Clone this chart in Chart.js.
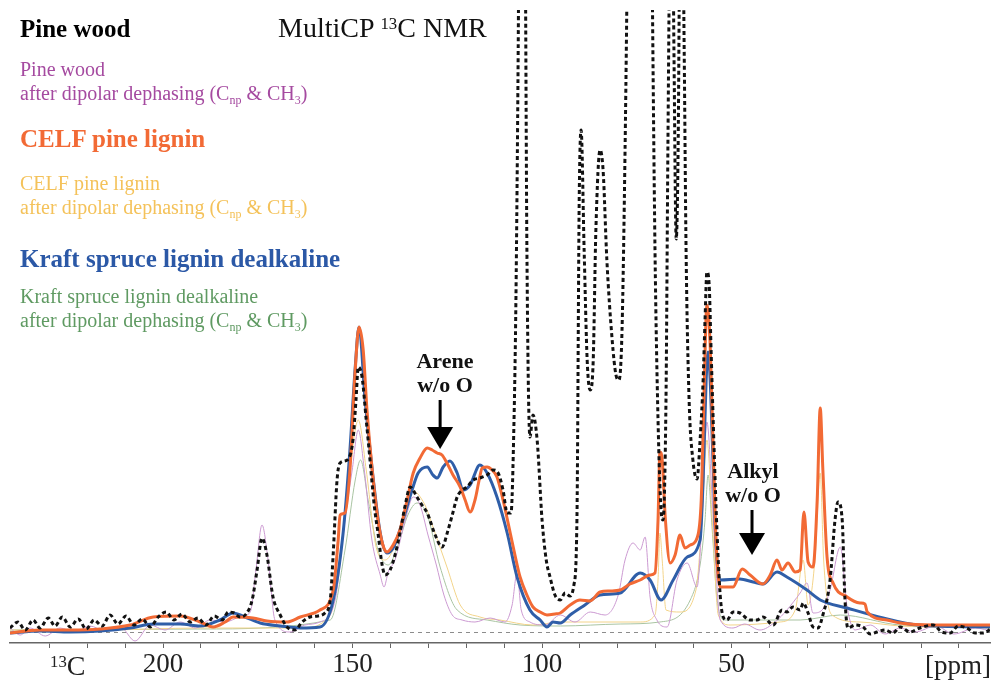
<!DOCTYPE html>
<html>
<head>
<meta charset="utf-8">
<script src="https://cdn.jsdelivr.net/npm/chart.js@4.4.1/dist/chart.umd.min.js"></script>
<style>
  body { margin: 0; background: #fff; }
  #wrap { position: relative; width: 994px; height: 683px; }
  .lbl { position: absolute; font-family: "Liberation Serif", "Times New Roman", serif; white-space: nowrap; }
  .bold { font-weight: bold; }
  .lbl sub { font-size: 0.6em; vertical-align: -0.35em; line-height: 0; }
  .lbl sup { font-size: 0.6em; vertical-align: 0.45em; line-height: 0; }
  .two { line-height: 24px; font-size: 20px; }
  .note { font-weight: bold; font-size: 22px; line-height: 24px; text-align: center; transform: translateX(-50%); }
</style>
</head>
<body>
<div id="wrap">
  <canvas id="nmrChart" width="994" height="683"></canvas>

  <div class="lbl bold" style="left:20px;top:16px;font-size:25px;line-height:25px;color:#000">Pine wood</div>
  <div class="lbl" style="left:278px;top:14px;font-size:28px;line-height:28px;color:#111">MultiCP <sup>13</sup>C NMR</div>
  <div class="lbl two" style="left:20px;top:57px;color:#a54aa0">Pine wood<br>after dipolar dephasing (C<sub>np</sub> &amp; CH<sub>3</sub>)</div>
  <div class="lbl bold" style="left:20px;top:126px;font-size:25px;line-height:25px;color:#f26a35">CELF pine lignin</div>
  <div class="lbl two" style="left:20px;top:171px;color:#f4c25a">CELF pine lignin<br>after dipolar dephasing (C<sub>np</sub> &amp; CH<sub>3</sub>)</div>
  <div class="lbl bold" style="left:20px;top:246px;font-size:25px;line-height:25px;color:#2b58a6">Kraft spruce lignin dealkaline</div>
  <div class="lbl two" style="left:20px;top:284px;color:#5f9a62">Kraft spruce lignin dealkaline<br>after dipolar dephasing (C<sub>np</sub> &amp; CH<sub>3</sub>)</div>

  <div class="lbl note" style="left:445px;top:349px;color:#111">Arene<br>w/o O</div>
  <div class="lbl note" style="left:753px;top:459px;color:#111">Alkyl<br>w/o O</div>

  <div class="lbl" style="left:50px;top:652px;font-size:28px;line-height:28px;color:#222"><sup>13</sup>C</div>
  <div class="lbl" style="left:925px;top:652px;font-size:27px;line-height:27px;color:#222">[ppm]</div>
</div>

<script>
// chemical shift (ppm) and signal height for each trace

const pineWoodPpm = [240.4, 238.3, 236.4, 234.3, 232.5, 230.3, 228.5, 226.6, 224.5, 222.4,
    220.3, 218.2, 216.1, 214.0, 211.9, 209.8, 207.7, 205.5, 203.4, 201.3,
    199.2, 197.1, 195.0, 192.9, 190.8, 188.7, 186.5, 184.4, 182.8, 181.3,
    179.7, 178.1, 176.5, 175.2, 173.9, 172.6, 171.0, 169.1, 167.3, 165.2,
    163.3, 161.2, 159.1, 157.3, 155.9, 155.1, 154.1, 153.3, 151.4, 149.9,
    149.1, 148.5, 147.5, 146.4, 145.4, 144.3, 143.3, 142.2, 141.4, 140.1,
    138.8, 137.5, 136.1, 134.8, 133.0, 131.7, 130.3, 128.2, 126.4, 124.8,
    123.7, 122.4, 121.1, 119.8, 118.2, 116.4, 114.5, 112.9, 111.6, 110.3,
    109.2, 108.2, 107.4, 106.9, 106.3, 105.8, 105.3, 104.5, 104.0, 103.2,
    102.4, 101.3, 100.0, 98.9, 97.9, 96.6, 95.2, 93.9, 92.6, 91.6,
    90.8, 90.2, 89.7, 88.9, 88.1, 87.3, 86.5, 85.8, 84.7, 83.9,
    82.9, 81.5, 80.5, 79.7, 78.9, 78.1, 77.3, 76.2, 74.9, 73.3,
    72.0, 71.0, 70.2, 69.4, 68.6, 68.1, 67.3, 66.8, 66.2, 65.7,
    65.2, 64.6, 64.1, 63.6, 63.1, 62.5, 62.0, 61.2, 60.2, 59.1,
    58.3, 57.5, 57.0, 56.5, 55.9, 55.4, 54.6, 53.8, 53.0, 52.2,
    51.2, 49.6, 47.8, 45.1, 43.3, 41.7, 39.0, 36.7, 35.4, 33.8,
    31.9, 31.1, 29.8, 28.5, 27.2, 25.9, 24.0, 22.7, 21.9, 20.8,
    20.1, 19.3, 17.4, 15.3, 13.4, 11.6, 9.5, 7.4, 5.5, 2.9,
    0.3, -3.2, -5.5, -7.7, -9.8, -12.1, -14.3, -16.4, -19.0];
const pineWoodSignal = [4, 10, 2, 12, 4, 14, 6, 15, 5, 13,
    3, 12, 6, 17, 8, 16, 7, 13, 5, 15,
    20, 12, 18, 10, 14, 7, 16, 12, 20, 19,
    15, 18, 32, 62, 94, 77, 35, 17, 5, 2,
    10, 15, 16, 19, 32, 79, 152, 169, 172, 192,
    232, 265, 255, 212, 172, 127, 99, 67, 57, 62,
    77, 99, 127, 145, 135, 127, 119, 97, 85, 102,
    117, 135, 142, 145, 152, 154, 157, 162, 159, 142,
    119, 119, 212, 332, 582, 882, 932, 732, 382, 195,
    217, 192, 112, 72, 55, 37, 32, 39, 36, 47,
    112, 432, 502, 382, 272, 242, 272, 402, 482, 462,
    372, 292, 257, 252, 302, 482, 732, 1032, 1232, 1182,
    1132, 682, 382, 212, 122, 112, 232, 482, 732, 782,
    582, 393, 482, 732, 782, 582, 382, 232, 172, 153,
    192, 252, 312, 360, 347, 282, 182, 97, 37, 15,
    12, 20, 19, 12, 12, 15, 7, 22, 20, 25,
    22, 29, 19, 5, 4, 17, 52, 112, 130, 112,
    35, 4, 7, 5, -2, 0, 2, -1, 5, 0,
    4, 7, 0, -1, 6, 4, -1, -1, 5];

const pineDephasedPpm = [240.4, 237.7, 235.1, 231.1, 227.2, 223.2, 219.3, 215.3, 211.3, 207.4,
    203.4, 199.5, 195.5, 191.5, 187.6, 183.6, 179.7, 177.0, 175.5, 173.9,
    172.3, 170.5, 166.5, 162.6, 158.6, 154.6, 152.0, 150.1, 148.5, 146.9,
    144.9, 142.7, 141.7, 140.6, 138.8, 136.1, 134.0, 132.2, 130.1, 127.9,
    125.9, 123.7, 121.1, 117.7, 113.7, 109.8, 107.9, 106.6, 105.5, 103.2,
    99.2, 95.2, 91.3, 87.3, 83.4, 79.9, 78.1, 76.0, 74.1, 72.8,
    71.5, 69.7, 67.0, 64.4, 61.7, 59.1, 57.8, 56.5, 54.9, 53.0,
    49.6, 46.6, 42.5, 38.5, 35.4, 31.9, 30.1, 28.5, 26.1, 24.0,
    21.3, 19.5, 17.4, 13.4, 9.5, 5.5, 1.6, -3.9, -8.7, -14.3, -19.3];
const pineDephasedSignal = [4, -3, 4, -4, 4, 0, 6, 1, 5, -9,
    7, 2, 10, 4, 12, 10, 15, 20, 62, 107,
    72, 12, 0, 7, 10, 32, 112, 162, 202, 162,
    92, 57, 45, 60, 72, 112, 135, 127, 97, 67,
    37, 17, 12, 10, 14, 10, 27, 59, 22, 10,
    7, 17, 10, 20, 17, 37, 72, 89, 82, 95,
    35, 12, 5, 52, 69, 45, 112, 210, 119, 12,
    4, 8, 2, 10, 22, 39, 49, 19, 22, 42,
    85, 25, 2, 7, -2, 4, 0, 6, -2, 4, 0];

const celfPpm = [240.4, 232.5, 224.5, 216.6, 208.7, 202.6, 195.5, 190.2, 186.8, 183.6,
    181.5, 176.3, 172.6, 167.3, 163.8, 158.6, 155.1, 153.8, 153.3, 152.0,
    150.7, 149.3, 148.3, 147.2, 146.2, 144.9, 143.3, 142.0, 140.9, 139.3,
    137.5, 135.6, 134.0, 132.2, 130.3, 129.0, 127.7, 126.4, 125.1, 123.5,
    121.6, 120.3, 119.0, 117.7, 116.6, 115.8, 114.5, 113.2, 111.9, 110.3,
    108.4, 107.1, 105.8, 104.0, 102.4, 100.5, 98.7, 96.6, 95.2, 92.6,
    90.0, 87.3, 84.7, 82.1, 79.4, 76.8, 74.1, 71.5, 70.2, 69.4,
    68.9, 68.3, 67.5, 66.2, 64.9, 63.6, 62.3, 60.9, 59.1, 58.0,
    57.3, 56.5, 55.7, 54.9, 54.1, 53.0, 49.6, 47.2, 45.1, 41.7,
    39.8, 38.0, 36.7, 35.1, 33.2, 31.9, 30.9, 29.8, 28.5, 27.4,
    26.6, 25.9, 24.8, 23.2, 19.5, 16.1, 14.8, 14.2, 9.0, 5.5,
    -3.2, -19.3];
const celfSignal = [-1, 2, 2, 3, 7, 15, 16, 10, 5, 10,
    15, 14, 11, 10, 15, 22, 42, 92, 117, 119,
    162, 262, 305, 282, 222, 165, 112, 87, 80, 87,
    102, 132, 159, 174, 184, 182, 179, 177, 169, 157,
    145, 132, 120, 132, 152, 164, 165, 162, 155, 132,
    99, 76, 55, 37, 25, 20, 17, 18, 19, 27,
    32, 31, 40, 41, 42, 48, 52, 57, 59, 112,
    180, 172, 115, 69, 77, 97, 84, 87, 94, 132,
    232, 327, 292, 192, 92, 45, 45, 63, 57, 48,
    57, 72, 62, 69, 60, 62, 120, 70, 65, 132,
    224, 162, 75, 49, 35, 29, 28, 20, 12, 9,
    7, 7];

const celfDephasedPpm = [240.4, 216.6, 190.2, 163.8, 155.9, 152.8, 150.7, 148.5, 146.4, 143.9,
    141.4, 138.8, 136.1, 134.5, 130.9, 128.8, 125.1, 121.6, 116.4, 111.1,
    102.4, 95.2, 84.7, 74.1, 70.2, 69.4, 68.9, 68.3, 67.3, 63.6,
    59.4, 57.8, 56.5, 55.1, 53.5, 50.4, 37.2, 33.2, 31.1, 29.8,
    28.0, 26.6, 25.7, 23.5, 16.1, 5.5, -19.3];
const celfDephasedSignal = [2, 2, 4, 4, 17, 92, 162, 212, 162, 87,
    72, 87, 122, 142, 127, 105, 65, 27, 15, 12,
    7, 10, 10, 10, 17, 52, 99, 72, 22, 20,
    42, 112, 192, 112, 17, 7, 10, 22, 72, 27,
    72, 159, 72, 17, 10, 6, 4];

const kraftPpm = [240.4, 232.5, 224.5, 216.6, 208.7, 202.6, 195.5, 190.2, 185.0, 181.5,
    178.4, 174.4, 169.1, 163.8, 158.6, 155.1, 152.5, 150.7, 149.3, 148.3,
    146.7, 144.9, 142.7, 140.9, 139.3, 137.5, 134.3, 132.7, 130.3, 128.8,
    127.7, 126.1, 124.3, 122.4, 120.8, 119.0, 116.4, 114.5, 111.9, 109.2,
    106.6, 103.2, 100.5, 98.7, 97.1, 95.2, 92.6, 88.7, 84.7, 79.4,
    74.1, 71.5, 68.6, 65.4, 61.7, 58.3, 57.5, 56.7, 56.2, 55.7,
    54.9, 54.1, 53.0, 47.8, 44.3, 41.7, 38.0, 35.4, 30.1, 26.6,
    19.5, 10.0, 1.1, -19.3];
const kraftSignal = [-1, 1, 0, 1, 4, 8, 8, 6, 12, 19,
    15, 9, 6, 4, 5, 32, 99, 182, 265, 305,
    232, 165, 99, 79, 84, 102, 142, 159, 165, 157,
    154, 165, 171, 159, 142, 147, 167, 159, 135, 99,
    55, 22, 12, 5, 10, 9, 17, 27, 37, 39,
    59, 52, 32, 52, 75, 92, 152, 252, 280, 257,
    172, 87, 52, 53, 50, 48, 60, 55, 42, 32,
    24, 14, 7, 5];

const kraftDephasedPpm = [240.4, 190.2, 155.9, 152.0, 149.3, 147.9, 145.9, 143.3, 140.6, 138.0,
    135.4, 133.0, 130.3, 126.9, 122.4, 114.5, 105.8, 95.2, 79.4, 68.9,
    60.9, 58.3, 57.0, 56.2, 55.1, 53.8, 51.7, 31.9, 21.3, 5.5, -19.3];
const kraftDephasedSignal = [2, 3, 12, 82, 152, 172, 132, 82, 67, 87,
    117, 129, 117, 65, 22, 12, 7, 6, 8, 10,
    32, 67, 112, 157, 102, 32, 12, 12, 17, 7, 5];

const tickValues = [230, 220, 210, 200, 190, 180, 170, 160, 150, 140, 130, 120,
    110, 100, 90, 80, 70, 60, 50, 40, 30, 20, 10, 0, -10];
const labeledTicks = [200, 150, 100, 50];

// arrows under the "Arene" and "Alkyl" notes: ppm, shaft top, tip (signal units)
const arrowNotes = [
    { ppm: 126.9, top: 232, tip: 183 },
    { ppm: 44.6, top: 122, tip: 77 }
];


function toPoints(ppm, signal) {
    return ppm.map((p, i) => ({ x: p, y: signal[i] }));
}

function trace(label, ppm, signal, color, width, order, dash) {
    return {
        label: label,
        data: toPoints(ppm, signal),
        borderColor: color,
        borderWidth: width,
        borderDash: dash || [],
        pointRadius: 0,
        fill: false,
        cubicInterpolationMode: 'monotone',
        order: order
    };
}

const baselinePlugin = {
    id: 'baseline',
    beforeDatasetsDraw(chart) {
        const { ctx, chartArea, scales } = chart;
        const y = Math.round(scales.y.getPixelForValue(0)) + 0.5;
        ctx.save();
        ctx.strokeStyle = '#8c8c8c';
        ctx.lineWidth = 1;
        ctx.setLineDash([4, 4]);
        ctx.beginPath();
        ctx.moveTo(chartArea.left, y);
        ctx.lineTo(chartArea.right, y);
        ctx.stroke();
        ctx.restore();
    }
};

const arrowPlugin = {
    id: 'arrows',
    afterDatasetsDraw(chart) {
        const { ctx, scales } = chart;
        ctx.save();
        ctx.fillStyle = '#000';
        ctx.strokeStyle = '#000';
        arrowNotes.forEach(a => {
            const x = scales.x.getPixelForValue(a.ppm);
            const y1 = scales.y.getPixelForValue(a.top);
            const y2 = scales.y.getPixelForValue(a.tip);
            ctx.lineWidth = 3;
            ctx.beginPath();
            ctx.moveTo(x, y1);
            ctx.lineTo(x, y2 - 18);
            ctx.stroke();
            ctx.beginPath();
            ctx.moveTo(x - 13, y2 - 22);
            ctx.lineTo(x + 13, y2 - 22);
            ctx.lineTo(x, y2);
            ctx.closePath();
            ctx.fill();
        });
        ctx.restore();
    }
};

function createNmrChart() {
    const config = {
        type: 'line',
        data: {
            datasets: [
                trace('Pine wood', pineWoodPpm, pineWoodSignal, '#111111', 3, 0, [4, 3]),
                trace('CELF pine lignin', celfPpm, celfSignal, '#f26a35', 3, 1),
                trace('Kraft spruce lignin dealkaline', kraftPpm, kraftSignal, '#2f5ea8', 3, 2),
                trace('Pine wood dephased', pineDephasedPpm, pineDephasedSignal, '#cc9ad2', 1, 3),
                trace('CELF pine lignin dephased', celfDephasedPpm, celfDephasedSignal, '#f3d48a', 1, 4),
                trace('Kraft spruce lignin dealkaline dephased', kraftDephasedPpm, kraftDephasedSignal, '#a9c4a2', 1, 5)
            ]
        },
        options: {
            responsive: false,
            animation: false,
            devicePixelRatio: 1,
            layout: { padding: { left: 10, right: 4, top: 10, bottom: 0 } },
            plugins: {
                legend: { display: false },
                tooltip: { enabled: false }
            },
            scales: {
                x: {
                    type: 'linear',
                    reverse: true,
                    min: -18.2,
                    max: 240.4,
                    afterBuildTicks: scale => {
                        scale.ticks = tickValues.map(v => ({ value: v }));
                    },
                    afterFit: scale => {
                        scale.height = 40;
                    },
                    grid: {
                        drawOnChartArea: false,
                        drawTicks: true,
                        tickLength: 5,
                        color: '#666'
                    },
                    border: { display: true, color: '#666', width: 1.5 },
                    ticks: {
                        autoSkip: false,
                        maxRotation: 0,
                        padding: 1,
                        color: '#222',
                        font: { family: '"Liberation Serif", "Times New Roman", serif', size: 27 },
                        callback: v => labeledTicks.includes(v) ? String(v) : ''
                    }
                },
                y: { display: false, min: -11, max: 622 }
            }
        },
        plugins: [baselinePlugin, arrowPlugin]
    };

    const ctx = document.getElementById('nmrChart').getContext('2d');
    new Chart(ctx, config);
}

createNmrChart();
</script>
</body>
</html>
